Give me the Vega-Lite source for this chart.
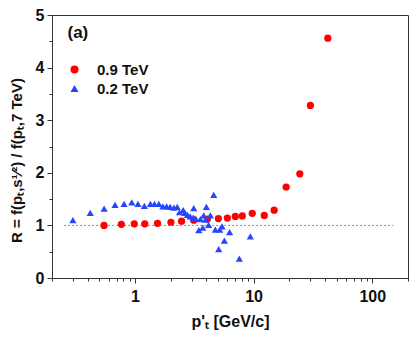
{
  "$schema": "https://vega.github.io/schema/vega-lite/v6.json",
  "autosize": {"type": "none"},
  "width": 356,
  "height": 263,
  "padding": {"left": 52, "top": 15, "right": 8, "bottom": 75},
  "background": "white",
  "config": {
    "view": {"stroke": "#333333", "strokeWidth": 1},
    "font": "Liberation Sans",
    "axis": {
      "grid": false,
      "domainColor": "#333333",
      "tickColor": "#333333",
      "labelFont": "Liberation Sans",
      "labelFontWeight": "bold",
      "labelFontSize": 16,
      "labelColor": "#111111",
      "titleFont": "Liberation Sans",
      "titleFontWeight": "bold",
      "titleFontSize": 16,
      "titleColor": "#111111",
      "labelOverlap": false
    },
    "legend": {
      "labelFont": "Liberation Sans",
      "labelFontWeight": "bold",
      "labelFontSize": 15,
      "labelColor": "#111111"
    }
  },
  "datasets": {
    "points": [
      {"pt": 0.549, "R": 1.00, "series": "0.9 TeV"},
      {"pt": 0.768, "R": 1.02, "series": "0.9 TeV"},
      {"pt": 0.987, "R": 1.03, "series": "0.9 TeV"},
      {"pt": 1.21, "R": 1.03, "series": "0.9 TeV"},
      {"pt": 1.55, "R": 1.04, "series": "0.9 TeV"},
      {"pt": 2.01, "R": 1.06, "series": "0.9 TeV"},
      {"pt": 2.47, "R": 1.08, "series": "0.9 TeV"},
      {"pt": 3.13, "R": 1.10, "series": "0.9 TeV"},
      {"pt": 4.08, "R": 1.12, "series": "0.9 TeV"},
      {"pt": 5.05, "R": 1.13, "series": "0.9 TeV"},
      {"pt": 6.01, "R": 1.14, "series": "0.9 TeV"},
      {"pt": 7.01, "R": 1.17, "series": "0.9 TeV"},
      {"pt": 8.03, "R": 1.18, "series": "0.9 TeV"},
      {"pt": 9.74, "R": 1.23, "series": "0.9 TeV"},
      {"pt": 12.3, "R": 1.19, "series": "0.9 TeV"},
      {"pt": 14.9, "R": 1.29, "series": "0.9 TeV"},
      {"pt": 18.8, "R": 1.73, "series": "0.9 TeV"},
      {"pt": 24.5, "R": 1.98, "series": "0.9 TeV"},
      {"pt": 30.1, "R": 3.28, "series": "0.9 TeV"},
      {"pt": 42.2, "R": 4.56, "series": "0.9 TeV"},
      {"pt": 0.30, "R": 1.10, "series": "0.2 TeV"},
      {"pt": 0.42, "R": 1.24, "series": "0.2 TeV"},
      {"pt": 0.55, "R": 1.32, "series": "0.2 TeV"},
      {"pt": 0.68, "R": 1.39, "series": "0.2 TeV"},
      {"pt": 0.81, "R": 1.41, "series": "0.2 TeV"},
      {"pt": 0.94, "R": 1.44, "series": "0.2 TeV"},
      {"pt": 1.06, "R": 1.41, "series": "0.2 TeV"},
      {"pt": 1.20, "R": 1.37, "series": "0.2 TeV"},
      {"pt": 1.35, "R": 1.41, "series": "0.2 TeV"},
      {"pt": 1.46, "R": 1.41, "series": "0.2 TeV"},
      {"pt": 1.59, "R": 1.41, "series": "0.2 TeV"},
      {"pt": 1.72, "R": 1.36, "series": "0.2 TeV"},
      {"pt": 1.85, "R": 1.36, "series": "0.2 TeV"},
      {"pt": 1.98, "R": 1.35, "series": "0.2 TeV"},
      {"pt": 2.13, "R": 1.34, "series": "0.2 TeV"},
      {"pt": 2.27, "R": 1.35, "series": "0.2 TeV"},
      {"pt": 2.37, "R": 1.25, "series": "0.2 TeV"},
      {"pt": 2.55, "R": 1.29, "series": "0.2 TeV"},
      {"pt": 2.63, "R": 1.24, "series": "0.2 TeV"},
      {"pt": 2.77, "R": 1.20, "series": "0.2 TeV"},
      {"pt": 2.92, "R": 1.17, "series": "0.2 TeV"},
      {"pt": 3.10, "R": 1.15, "series": "0.2 TeV"},
      {"pt": 3.13, "R": 1.33, "series": "0.2 TeV"},
      {"pt": 3.25, "R": 1.13, "series": "0.2 TeV"},
      {"pt": 3.45, "R": 0.91, "series": "0.2 TeV"},
      {"pt": 3.56, "R": 1.12, "series": "0.2 TeV"},
      {"pt": 3.73, "R": 0.96, "series": "0.2 TeV"},
      {"pt": 3.80, "R": 1.19, "series": "0.2 TeV"},
      {"pt": 3.93, "R": 1.11, "series": "0.2 TeV"},
      {"pt": 4.00, "R": 1.35, "series": "0.2 TeV"},
      {"pt": 4.18, "R": 1.01, "series": "0.2 TeV"},
      {"pt": 4.32, "R": 1.19, "series": "0.2 TeV"},
      {"pt": 4.61, "R": 1.58, "series": "0.2 TeV"},
      {"pt": 4.76, "R": 0.92, "series": "0.2 TeV"},
      {"pt": 5.18, "R": 0.92, "series": "0.2 TeV"},
      {"pt": 5.42, "R": 0.98, "series": "0.2 TeV"},
      {"pt": 5.08, "R": 0.55, "series": "0.2 TeV"},
      {"pt": 5.67, "R": 0.71, "series": "0.2 TeV"},
      {"pt": 6.28, "R": 0.87, "series": "0.2 TeV"},
      {"pt": 7.58, "R": 0.37, "series": "0.2 TeV"},
      {"pt": 9.38, "R": 0.79, "series": "0.2 TeV"}
    ]
  },
  "encoding": {
    "x": {
      "field": "pt",
      "type": "quantitative",
      "scale": {"type": "log", "domain": [0.2, 200], "nice": false},
      "axis": {
        "title": "p'ₜ [GeV/c]",
        "values": [0.2, 0.3, 0.4, 0.5, 0.6, 0.7, 0.8, 0.9, 1, 2, 3, 4, 5, 6, 7, 8, 9, 10, 20, 30, 40, 50, 60, 70, 80, 90, 100, 200],
        "labelExpr": "indexof([1,10,100], datum.value) >= 0 ? format(datum.value, 'd') : ''",
        "tickSize": {"condition": {"test": "indexof([1,10,100], datum.value) >= 0", "value": 5}, "value": 3},
        "labelPadding": 5,
        "titlePadding": 9,
        "labelFlush": false
      }
    },
    "y": {
      "field": "R",
      "type": "quantitative",
      "scale": {"domain": [0, 5], "nice": false},
      "axis": {
        "title": "R = f(pₜ,s¹⁄²) / f(pₜ,7 TeV)",
        "titleFontSize": 15,
        "values": [0, 0.5, 1, 1.5, 2, 2.5, 3, 3.5, 4, 4.5, 5],
        "labelExpr": "datum.value % 1 === 0 ? format(datum.value, 'd') : ''",
        "tickSize": {"condition": {"test": "datum.value % 1 === 0", "value": 5}, "value": 3},
        "labelPadding": 3,
        "titlePadding": 11,
        "titleY": 145
      }
    }
  },
  "layer": [
    {
      "data": {"values": [{"pt": 0.253, "pt2": 150, "R": 1}]},
      "mark": {"type": "rule", "color": "#888888", "strokeDash": [2, 2], "strokeWidth": 1},
      "encoding": {"x2": {"field": "pt2"}}
    },
    {
      "data": {"name": "points"},
      "mark": {"type": "point", "filled": true, "opacity": 1, "size": 52},
      "encoding": {
        "color": {
          "field": "series",
          "type": "nominal",
          "scale": {"domain": ["0.9 TeV", "0.2 TeV"], "range": ["#ff0000", "#2545ff"]},
          "legend": {
            "title": null,
            "orient": "none",
            "legendX": 15,
            "legendY": 47,
            "symbolSize": 64,
            "labelOffset": 15,
            "rowPadding": 3,
            "padding": 0
          }
        },
        "shape": {
          "field": "series",
          "type": "nominal",
          "scale": {"domain": ["0.9 TeV", "0.2 TeV"], "range": ["circle", "triangle-up"]},
          "legend": {
            "title": null,
            "orient": "none",
            "legendX": 15,
            "legendY": 47,
            "symbolSize": 64,
            "labelOffset": 15,
            "rowPadding": 3,
            "padding": 0
          }
        }
      }
    },
    {
      "data": {"values": [{"pt": 0.27, "R": 4.66, "label": "(a)"}]},
      "mark": {"type": "text", "align": "left", "baseline": "middle", "font": "Liberation Sans", "fontWeight": "bold", "fontSize": 17, "color": "#111111"},
      "encoding": {"text": {"field": "label"}}
    }
  ]
}
